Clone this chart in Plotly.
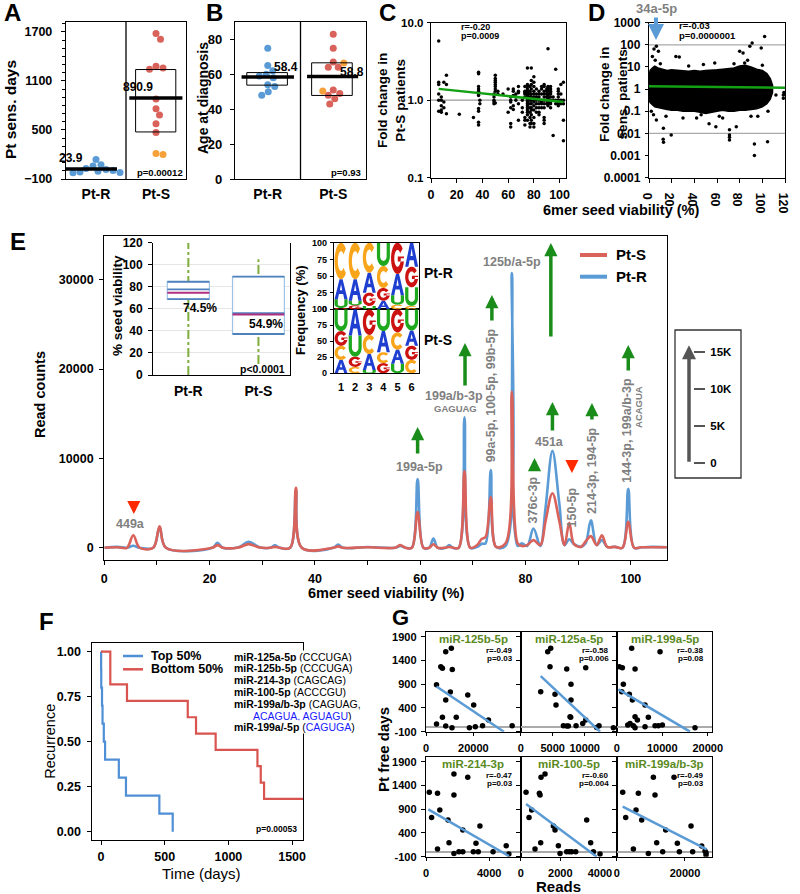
import math
import plotly.graph_objects as go

W, H = 800, 894
FF = "Liberation Sans, Arial, Helvetica, sans-serif"

def PX(x): return x / W
def PY(y): return 1 - y / H
def DX(a, b): return [a / W, b / W]
def DY(t, b): return [1 - b / H, 1 - t / H]

# ======================= DATA =======================
# Panel A: Pt sensitivity (days)
a_categories = ["Pt-R", "Pt-S"]
a_ptR = [140, 75, 60, 30, 15, 5, -5, -15, -25, -20]
a_ptS = [1680, 1610, 1280, 1260, 1245, 880, 760, 685, 575, 470]
a_ptS_orange = [212, 200]
a_means = [23.9, 890.9]
a_box_lo = [None, 476]
a_box_hi = [None, 1240]
a_yticks = [-100, 500, 1100, 1700]

# Panel B: age at diagnosis
b_ptR = [75, 65, 62, 60, 59, 58, 54, 53, 50, 48]
b_ptS = [83, 75, 67, 64, 64, 51, 49, 48, 46, 43]
b_ptS_orange = [66.5, 50.5]
b_means = [58.4, 58.8]
b_box_lo = [53.8, 47.9]
b_box_hi = [61.0, 66.6]
b_yticks = [0, 20, 40, 60, 80]

# Panel C: fold change in Pt-S vs seed viability (vertical stripes)
c_stripe_x = [6, 8, 10, 12, 22, 33, 37, 38, 49, 50, 52, 56, 60, 62, 64, 66, 68, 71, 73,
              75, 77, 78, 80, 82, 84, 86, 88, 90, 91, 93, 95, 97, 99, 101, 103]
c_stripe_y = [
    [5.8, 1.7, 1.6, 1.2, 1.0, 0.72],
    [1.1, 1.0, 0.85, 0.75, 0.7],
    [1.7, 0.95, 0.8],
    [2.1, 1.6, 0.67],
    [0.66],
    [0.6],
    [2.3, 2.2, 1.5, 1.4, 1.3, 1.2, 1.15, 0.78, 0.72, 0.52, 0.48],
    [1.0, 0.9],
    [1.2, 1.1, 1.0, 0.95, 0.9],
    [2.1, 1.9, 1.8, 1.7, 1.6, 1.5, 1.4, 1.3, 0.92],
    [1.3, 1.2],
    [1.2],
    [0.7, 1.4],
    [1.1, 1.0, 0.8, 0.5, 0.45, 0.95],
    [1.4, 1.3, 1.15, 0.85, 0.76],
    [1.2, 1.1, 1.0],
    [1.5, 1.3, 1.25, 0.9, 0.55],
    [1.0, 0.8, 0.7],
    [1.5, 1.3, 1.25, 1.2, 1.1, 0.6, 0.55, 0.48],
    [2.6, 1.6, 1.5, 1.4, 1.3, 1.25, 1.2, 1.15, 1.1, 1.05, 1.0, 0.95, 0.9, 0.85, 0.8, 0.75, 0.7, 0.65, 0.55],
    [1.5, 1.3, 1.2, 1.1, 1.0, 0.9, 0.8, 0.7, 0.6, 0.5, 0.45],
    [2.6, 1.8, 1.6, 1.4, 1.2, 1.1, 1.0, 0.9, 0.8, 0.75, 0.65, 0.55, 0.5],
    [2.0, 1.7, 1.5, 1.3, 1.2, 1.1, 1.05, 1.0, 0.95, 0.85, 0.75, 0.6, 0.5, 0.45],
    [1.4, 1.2, 1.1, 1.0, 0.9, 0.8, 0.7],
    [1.3, 1.2, 1.1, 1.0, 0.9, 0.8, 0.7, 0.65],
    [1.5, 1.4, 1.2, 1.0, 0.95, 0.9, 0.8],
    [1.6, 1.5, 1.3, 1.2, 1.1, 1.0, 0.9, 0.8, 0.6, 0.55, 0.5],
    [1.4, 1.3, 1.2, 1.1, 1.0, 0.9],
    [4.6, 1.5, 1.45, 1.35, 1.3, 1.2, 1.15, 1.1, 1.05, 1.0, 0.95, 0.9, 0.85],
    [1.5, 1.4, 1.3, 1.25, 1.2, 1.1, 1.0, 0.95, 0.9, 0.8],
    [0.35, 1.1, 1.0],
    [2.5, 1.0, 0.9],
    [1.4, 1.3, 1.2, 1.1, 1.0, 0.95, 0.9, 0.85],
    [1.6, 1.2, 1.0, 0.95, 0.9],
    [1.7, 1.0, 0.9, 0.55, 0.3],
]
c_fit_x = [6, 103]
c_fit_y = [1.40, 0.95]

# Panel D: dense cloud (envelope of the core) + outliers
d_env_x = [0, 1, 3, 5, 8, 12, 16, 20, 25, 30, 35, 40, 45, 50, 55, 60, 65, 70, 75, 80, 85, 90, 95, 100, 104, 107, 109]
d_env_hi = [4, 7, 9, 11, 9, 8, 7, 7.5, 7, 7, 6.5, 7, 6.5, 7, 7, 7.5, 8, 8.5, 9, 11, 12, 10, 8, 7, 5, 3, 1.5]
d_env_lo = [0.35, 0.25, 0.2, 0.16, 0.15, 0.13, 0.12, 0.11, 0.11, 0.1, 0.1, 0.1, 0.09, 0.08, 0.09, 0.1, 0.11,
            0.1, 0.1, 0.11, 0.11, 0.12, 0.13, 0.16, 0.22, 0.35, 0.7]
d_out_x = [4.4, 6.5, 8.3, 3, 5.5, 23.7, 26.7, 12.7, 12.5, 12.8, 19.6, 53, 59, 71, 71, 71, 71, 77, 80, 83,
           84.4, 89, 91, 99, 102, 93, 93, 104.6, 112, 118.5, 118.5, 119, 6.5, 4, 46, 30, 65, 96, 58, 87,
           2, 10, 15, 35, 42, 48, 62, 75, 90, 100, 105]
d_out_y = [65, 86, 51, 30, 20, 30, 28, 0.017, 0.0055, 0.004, 0.0085, 0.027, 0.02, 0.0145, 0.0085, 0.0067,
           0.005, 0.02, 51, 43, 15, 86, 120, 72, 240, 0.0033, 0.001, 0.0042, 0.55, 0.55, 0.39, 0.7, 0.04,
           0.07, 0.07, 0.05, 0.05, 0.06, 15, 20,
           0.1, 14, 0.06, 11, 0.05, 13, 0.06, 14, 0.06, 12, 0.1]
d_fit_x = [0, 120]
d_fit_y = [1.35, 1.15]

# Panel E: read counts vs seed viability
e_x = [0, 2.5, 4.3, 5.5, 6.7, 9.3, 10.5, 11.7, 20.5, 21.5, 22.5, 25.5, 27.4, 29.5, 31.5, 32.4, 33.3,
       35.3, 36.4, 37.5, 43.5, 44.4, 45.3, 50, 55.2, 56.2, 57.2, 58.4, 59.5, 60.6, 61.7, 62.5, 63.3,
       64.8, 65.5, 66.2, 67.3, 68.4, 69.5, 70.8, 71.7, 72.4, 73.4, 74.4, 76.2, 77.4, 78.5, 79.3, 80.3,
       81.5, 82.8, 83.8, 85.1, 86.4, 87.4, 88.3, 89.2, 90.5, 91.4, 92.4, 93.5, 94.5, 95.5, 97, 98.4,
       99.5, 100.6, 102, 104, 107]
e_ptR = [0, 100, 0, 220, 0, 0, 2300, 0, 0, 550, 0, 50, 680, 50, 0, 270, 0,
         0, 6400, 0, 0, 370, 0, 80, 0, 200, 0, 0, 7700, 0, 0, 1040, 0,
         0, 300, 0, 0, 14600, 0, 100, 450, 500, 8700, 100, 200, 30750, 200, 490, 200,
         2150, 200, 4500, 10850, 5000, 300, 960, 400, 100, 500, 3080, 300, 850, 100, 100, 0,
         6600, 0, 50, 100, 50]
e_ptS = [0, 50, 0, 1400, 0, 0, 2400, 0, 0, 300, 0, 30, 410, 30, 0, 100, 0,
         0, 6700, 0, 0, 150, 0, 50, 0, 300, 0, 0, 4000, 0, 0, 400, 0,
         0, 100, 0, 0, 8600, 0, 300, 1000, 1200, 5650, 100, 500, 17500, 500, 200, 300,
         850, 300, 3000, 6100, 3000, 300, 2800, 400, 100, 700, 1300, 300, 1400, 100, 100, 0,
         2900, 0, 50, 50, 50]
e_yticks = [0, 10000, 20000, 30000]

# E inset: % seed viability box plot
inset_groups = ["Pt-R", "Pt-S"]
inset_q1 = [68.9, 37.2]
inset_q3 = [84.6, 89.2]
inset_median = [77.7, 56.0]
inset_mean = [74.5, 54.9]
inset_wlo = [0, 10]
inset_whi = [120, 105]

# E inset: seed logos (frequency %, positions 1..6)
logo_pos = [1, 2, 3, 4, 5, 6]
logoR_A = [30, 32, 30, 13, 32, 36]
logoR_C = [55, 55, 45, 33, 7, 5]
logoR_G = [2, 6, 20, 19, 47, 31]
logoR_U = [13, 7, 5, 35, 14, 28]
logoS_A = [21, 41, 25, 33, 22, 24]
logoS_C = [22, 10, 30, 17, 27, 21]
logoS_G = [23, 16, 40, 16, 36, 22]
logoS_U = [34, 33, 5, 34, 15, 33]

# E scale bar
sb_ticks = [0, 5000, 10000, 15000]
sb_labels = ["0", "5K", "10K", "15K"]
sb_arrow_top = 15900

# Panel F: Kaplan-Meier
f_top_t = [1, 2, 8, 12, 22, 32, 140, 196, 458, 563]
f_top_s = [0.9, 0.8, 0.7, 0.6, 0.5, 0.4, 0.3, 0.2, 0.1, 0.0]
f_bot_t = [73, 204, 681, 746, 900, 1228, 1254, 1280]
f_bot_s = [0.818, 0.727, 0.636, 0.545, 0.455, 0.364, 0.273, 0.182]
f_bot_end = 1600

# Panel G: Pt free days vs reads
g_titles = ["miR-125b-5p", "miR-125a-5p", "miR-199a-5p", "miR-214-3p", "miR-100-5p", "miR-199a/b-3p"]
g_r = ["r=-0.49", "r=-0.58", "r=-0.38", "r=-0.47", "r=-0.60", "r=-0.49"]
g_p = ["p=0.03", "p=0.006", "p=0.08", "p=0.03", "p=0.004", "p=0.03"]
g_xmax = [40000, 15000, 21000, 6000, 4850, 28000]
g_xticks = [[0, 20000], [0, 5000, 10000], [0, 10000, 20000], [0, 4000], [0, 2000, 4000], [0, 20000]]
g_yticks = [-100, 400, 900, 1400, 1900]
g1_x = [4440, 8330, 10700, 6250, 6940, 11100, 10280, 8330, 17640, 20140, 6940, 4440, 8330, 10970, 12780, 18330, 20830, 23890, 26390, 36390]
g1_y = [890, 1585, 1655, 1270, 1235, 1210, 735, 567, 672, 462, 202, 62, 19, -16, 202, -16, 5, 26, 146, 26]
g2_x = [4220, 4690, 4580, 3125, 5360, 5520, 7190, 7860, 7860, 7710, 7810, 6670, 7190, 7450, 8650, 9690, 10160, 10160, 11870, 12240, 14480]
g2_y = [1585, 1655, 1270, 742, 686, 462, 1220, 897, 567, 216, 202, 26, 19, 19, 26, 75, 146, 1249, -9, 26, -16]
g3_x = [590, 1240, 1460, 1100, 2780, 3440, 2930, 2420, 3660, 4030, 4030, 4540, 3290, 4030, 6220, 6950, 6220, 8420, 9150, 10030, 9520, 17200]
g3_y = [1270, 1249, 897, 742, 686, 567, 75, 40, 26, -16, 216, 146, 1655, 1220, 462, 202, 5, 26, 26, 40, 1585, -16]
g4_x = [208, 354, 729, 875, 729, 1396, 1458, 1770, 1770, 1770, 2083, 2333, 2333, 2645, 3166, 3416, 2999, 3312, 4249, 5082, 5249]
g4_y = [1255, 728, 1234, 883, 61, 672, 195, 1641, 1199, -30, 5, 5, 462, 1571, 181, 546, 5, 5, 5, 132, -44]
g5_x = [270, 421, 556, 724, 943, 977, 1027, 1229, 1010, 1650, 1734, 1903, 1987, 2324, 2459, 2577, 2779, 3334, 3536, 3671, 4008]
g5_y = [1255, 728, 883, 61, 1234, 1199, 1571, 1641, 195, 546, 462, 132, -30, 5, 5, 5, 5, 672, 195, 5, -44]
g6_x = [1760, 2640, 4880, 5660, 6340, 7320, 9270, 10740, 11220, 11710, 13470, 14350, 16790, 17760, 18350, 21770, 22250, 24890, 26160, 26160, 25860]
g6_y = [1255, 728, 61, 883, 1234, 672, -30, 1571, 1199, 195, 5, 462, 1571, 181, 5, 546, 5, 125, -16, -65, 19]
g_fit_x = [[4440, 32900], [3125, 12400], [370, 16100], [146, 5250], [270, 3840], [1760, 26350]]
g_fit_y = [[850, -100], [1072, -100], [791, -100], [897, -86], [1009, -100], [953, 55]]

# ======================= STYLE =======================
BLUE = "#5B9BD5"
RED = "#D9625B"
ORANGE = "#F7A13B"
GREEN = "#14A014"
ARROW_GREEN = "#1A8C1A"
GRAY = "#808080"
LOGO_COL = {"A": "#1F3FD0", "C": "#F8A51B", "G": "#CC1111", "U": "#1EA81E"}

fig = go.Figure()
ann, shapes = [], []


def T(x, y, s, size=12, color="black", xref="paper", yref="paper", xa="center", ya="middle",
      angle=0, bold=True, bg=None, yshift=0, xshift=0):
    if xref == "paper":
        x = PX(x)
    if yref == "paper":
        y = PY(y)
    d = dict(x=x, y=y, xref=xref, yref=yref, text=(f"<b>{s}</b>" if bold else s), showarrow=False,
             font=dict(family=FF, size=size, color=color), xanchor=xa, yanchor=ya, textangle=angle,
             yshift=yshift, xshift=xshift, borderpad=0)
    if bg:
        d["bgcolor"] = bg
    ann.append(d)


def AX(domain, rng, anchor, size=12, **kw):
    d = dict(domain=domain, range=rng, anchor=anchor, showline=True, linecolor="black", linewidth=1.4,
             mirror=True, showgrid=False, zeroline=False, ticks="outside", ticklen=4, tickwidth=1.2,
             tickcolor="black", ticklabelstandoff=2, automargin=False,
             tickfont=dict(family=FF, size=size, color="black", weight="bold"))
    d.update(kw)
    return d


def swarm(vals, center, ux, uy, d=7.0, step=0.5):
    placed, xs = [], []
    cands = [0.0]
    for i in range(1, 80):
        cands += [i * step, -i * step]
    for v in vals:
        for c in cands:
            if all((c - p) ** 2 + (v * uy - q) ** 2 >= d * d for p, q in placed):
                placed.append((c, v * uy))
                xs.append(center + c / ux)
                break
    return xs


def line(xref, yref, x0, y0, x1, y1, color="black", width=1, dash=None, layer="above"):
    ln = dict(color=color, width=width)
    if dash:
        ln["dash"] = dash
    shapes.append(dict(type="line", xref=xref, yref=yref, x0=x0, y0=y0, x1=x1, y1=y1, line=ln, layer=layer))


def rect(xref, yref, x0, y0, x1, y1, color="black", width=1, fill=None, layer="above"):
    shapes.append(dict(type="rect", xref=xref, yref=yref, x0=x0, y0=y0, x1=x1, y1=y1,
                       line=dict(color=color, width=width), fillcolor=fill or "rgba(0,0,0,0)", layer=layer))


def arrow(x, y, xref, yref, ax, ay, ayref, color, width=3.5, size=0.7):
    ann.append(dict(x=x, y=y, xref=xref, yref=yref, ax=ax, ay=ay, axref="pixel", ayref=ayref,
                    showarrow=True, arrowhead=2, arrowsize=size, arrowwidth=width, arrowcolor=color, text=""))


layout_axes = {}

# ---------------- Panel A ----------------
layout_axes["xaxis"] = AX(DX(66, 186), [-0.5, 1.5], "y", size=14, tickvals=[0, 1], ticktext=a_categories, ticks="",
                          ticklabelstandoff=2)
layout_axes["yaxis"] = AX(DY(22, 179), [-100, 1822], "x", size=12.5, tickvals=a_yticks, ticklabelstandoff=6,
                          minor=dict(tick0=-100, dtick=100, ticks="outside", ticklen=2.5, tickcolor="black"))
xr = swarm(a_ptR, 0, 60, 0.0817)
xs = swarm(a_ptS + a_ptS_orange, 1, 60, 0.0817)
n = len(a_ptS)
for xx, yy, col in [(xr, a_ptR, BLUE), (xs[:n], a_ptS, RED), (xs[n:], a_ptS_orange, ORANGE)]:
    fig.add_trace(go.Scatter(x=xx, y=yy, mode="markers", marker=dict(size=7, color=col), xaxis="x", yaxis="y"))
rect("x", "y", 0.66, a_box_lo[1], 1.33, a_box_hi[1], width=1)
line("x", "y", -0.5, a_means[0], 0.35, a_means[0], width=3.5)
line("x", "y", 0.555, a_means[1], 1.44, a_means[1], width=3.5)
line("x", "y domain", 0.5, 0, 0.5, 1, width=1.3)
T(-0.42, a_means[0], f"{a_means[0]}", 12, xref="x", yref="y", ya="bottom", yshift=3)
T(0.695, a_means[1], f"{a_means[1]}", 12, xref="x", yref="y", ya="bottom", yshift=3)
T(184, 172, "p=0.00012", 9.5, xa="right")
T(11, 110, "Pt sens. days", 15.5, angle=-90)
T(12.5, 13, "A", 24)

# ---------------- Panel B ----------------
layout_axes["xaxis2"] = AX(DX(235, 366), [-0.5, 1.5], "y2", size=14, tickvals=[0, 1], ticktext=a_categories, ticks="",
                           ticklabelstandoff=2)
layout_axes["yaxis2"] = AX(DY(22, 179), [0, 90], "x2", size=13, tickvals=b_yticks, ticklabelstandoff=5)
xr = swarm(b_ptR, 0, 65.5, 1.746)
xs = swarm(b_ptS + b_ptS_orange, 1, 65.5, 1.746)
n = len(b_ptS)
for xx, yy, col in [(xr, b_ptR, BLUE), (xs[:n], b_ptS, RED), (xs[n:], b_ptS_orange, ORANGE)]:
    fig.add_trace(go.Scatter(x=xx, y=yy, mode="markers", marker=dict(size=7, color=col), xaxis="x2", yaxis="y2"))
rect("x2", "y2", -0.32, b_box_lo[0], 0.30, b_box_hi[0], width=1)
rect("x2", "y2", 0.67, b_box_lo[1], 1.29, b_box_hi[1], width=1)
line("x2", "y2", -0.40, b_means[0], 0.40, b_means[0], width=3.5)
line("x2", "y2", 0.60, b_means[1], 1.38, b_means[1], width=3.5)
line("x2", "y2 domain", 0.5, 0, 0.5, 1, width=1.3)
T(0.276, b_means[0], f"{b_means[0]}", 12, xref="x2", yref="y2", ya="bottom", yshift=2)
T(1.29, b_means[1], f"{b_means[1]}", 12, xref="x2", yref="y2", ya="bottom", yshift=-4)
T(362, 172, "p=0.93", 9.5, xa="right")
T(203, 98, "Age at diagnosis", 14, angle=-90)
T(214, 13, "B", 24)

# ---------------- Panel C ----------------
cx, cy = [], []
for xv, ys in zip(c_stripe_x, c_stripe_y):
    cx += [xv] * len(ys)
    cy += ys
layout_axes["xaxis3"] = AX(DX(431, 566), [0, 105], "y3", size=12.5, tickvals=[0, 20, 40, 60, 80, 100],
                           ticklabelstandoff=1)
layout_axes["yaxis3"] = AX(DY(22.7, 177.7), [-1, 1], "x3", type="log", size=11.5, tickvals=[0.1, 1, 10],
                           ticktext=["0.1", "1.0", "10.0"], ticklen=3, ticklabelstandoff=1)
line("x3 domain", "y3", 0, 1, 1, 1, color="#999999", width=1.2, layer="below")
fig.add_trace(go.Scatter(x=cx, y=cy, mode="markers", marker=dict(size=3.5, color="black"), xaxis="x3", yaxis="y3"))
fig.add_trace(go.Scatter(x=c_fit_x, y=c_fit_y, mode="lines", line=dict(color=GREEN, width=2.5), xaxis="x3", yaxis="y3"))
T(460, 27, "r=-0.20", 9, xa="left")
T(460, 36.5, "p=0.0009", 9, xa="left")
T(391, 101, "Fold change in<br>Pt-S patients", 13.5, angle=-90)
T(387.5, 13, "C", 24)

# ---------------- Panel D ----------------
layout_axes["xaxis4"] = AX(DX(649, 785), [0, 120], "y4", size=12.5, tickvals=[0, 20, 40, 60, 80, 100, 120],
                           ticklabelstandoff=1)
layout_axes["yaxis4"] = AX(DY(22.7, 177.7), [-4, 3], "x4", type="log", size=12,
                           tickvals=[1e-4, 1e-3, 1e-2, 0.1, 1, 10, 100, 1000],
                           ticktext=["0.0001", "0.001", "0.01", "0.1", "1", "10", "100", "1000"],
                           ticklen=3, ticklabelstandoff=2)
for yv in [100, 0.01]:
    line("x4 domain", "y4", 0, yv, 1, yv, color="#aaaaaa", width=1.2, layer="below")
fig.add_trace(go.Scatter(x=d_env_x + d_env_x[::-1], y=d_env_hi + d_env_lo[::-1], mode="lines", fill="toself",
                         fillcolor="black", line=dict(color="black", width=1.5), xaxis="x4", yaxis="y4"))
fig.add_trace(go.Scatter(x=d_out_x, y=d_out_y, mode="markers", marker=dict(size=3.5, color="black"), xaxis="x4", yaxis="y4"))
fig.add_trace(go.Scatter(x=d_fit_x, y=d_fit_y, mode="lines", line=dict(color=GREEN, width=2.5), xaxis="x4", yaxis="y4"))
T(678, 26, "r=-0.03", 9.5, xa="left")
T(678, 35, "p=0.0000001", 9.5, xa="left")
T(613, 95, "Fold change in<br>sens. patients", 13.5, angle=-90)
T(596.7, 13, "D", 24)
T(656.7, 8, "34a-5p", 13, color=GRAY)
arrow(PX(656), PY(40), "paper", "paper", 0, -24, "pixel", BLUE, width=4, size=0.8)
T(621.5, 210, "6mer seed viability (%)", 14.5)

# ---------------- Panel E ----------------
layout_axes["xaxis5"] = AX(DX(104.3, 666.7), [0, 106.8], "y5", size=12.5,
                           tickvals=list(range(0, 101, 10)),
                           ticktext=[str(v) if v % 20 == 0 else "" for v in range(0, 101, 10)],
                           ticklabelstandoff=3)
layout_axes["yaxis5"] = AX(DY(236, 560), [-1370, 34900], "x5", size=12.5, tickvals=e_yticks,
                           ticktext=[str(v) for v in e_yticks], ticklabelstandoff=3)
fig.add_trace(go.Scatter(x=e_x, y=e_ptR, mode="lines", line=dict(color=BLUE, width=2.6, shape="spline", smoothing=1.0),
                         xaxis="x5", yaxis="y5"))
fig.add_trace(go.Scatter(x=e_x, y=e_ptS, mode="lines", line=dict(color=RED, width=2.6, shape="spline", smoothing=1.0),
                         xaxis="x5", yaxis="y5"))
T(40, 395, "Read counts", 14.5, angle=-90)
T(386.5, 593, "6mer seed viability (%)", 14.5)
T(18, 241, "E", 24)
# legend
line("paper", "paper", PX(580), PY(255), PX(607), PY(255), color=RED, width=4)
line("paper", "paper", PX(580), PY(276.7), PX(607), PY(276.7), color=BLUE, width=4)
T(615, 255, "Pt-S", 15, xa="left")
T(615, 276.7, "Pt-R", 15, xa="left")

# peak labels
e_labels = [("449a", 5.0, 524, 0, 12.5), ("199a-5p", 59.8, 466.5, 0, 12.5), ("199a/b-3p", 66.5, 396, 0, 12.5),
            ("GAGUAG", 66.6, 408.5, 0, 9.5), ("99a-5p, 100-5p, 99b-5p", 73.5, 395, -90, 12.5),
            ("125b/a-5p", 77.5, 261.5, 0, 12.5), ("451a", 84.5, 441.7, 0, 12.5), ("376c-3p", 81.5, 500, -90, 12.5),
            ("150-5p", 88.8, 507.5, -90, 12.5), ("214-3p, 194-5p", 92.6, 470, -90, 12.5),
            ("144-3p, 199a/b-3p", 99.2, 430, -90, 12.5), ("ACAGUA", 101.4, 406.7, -90, 9.5)]
for s, xv, ypx, ang, sz in e_labels:
    T(xv, ypx, s, sz, color=GRAY, xref="x5", angle=ang)
# arrows (x data, tip px, tail px, color)
e_arrows = [(59.5, 427, 455, ARROW_GREEN), (68.5, 343, 387, ARROW_GREEN), (73.6, 295, 322, ARROW_GREEN),
            (84.8, 243, 338, ARROW_GREEN), (85.1, 402, 432, ARROW_GREEN), (81.7, 458, 470, ARROW_GREEN),
            (92.6, 403, 421, ARROW_GREEN), (99.5, 345, 372, ARROW_GREEN), (88.8, 473, 460, "#FF2A00"),
            (5.6, 514, 503, "#FF2A00")]
for xv, tip, tail, col in e_arrows:
    arrow(xv, PY(tip), "x5", "paper", 0, tail - tip, "pixel", col, width=3.5, size=0.75)

# ---------------- E inset: box plot ----------------
layout_axes["xaxis6"] = AX(DX(153.3, 290), [-0.5, 1.45], "y6", size=14, tickvals=[0, 1], ticktext=inset_groups,
                           ticks="", mirror=False, ticklabelstandoff=3)
layout_axes["yaxis6"] = AX(DY(242.7, 375), [0, 120], "x6", size=12, tickvals=[0, 20, 40, 60, 80, 100, 120],
                           showgrid=True, gridcolor="#e6e6e6", gridwidth=1, ticklabelstandoff=3)
halfw = [0.30, 0.37]
for i in range(2):
    line("x6", "y6", i, inset_wlo[i], i, inset_whi[i], color="#7FAE3E", width=2, dash="dashdot")
    rect("x6", "y6", i - halfw[i], inset_q1[i], i + halfw[i], inset_q3[i], color="#9DC3E6", width=1.2, fill="white")
    for yv in [inset_q1[i], inset_q3[i], inset_median[i]]:
        line("x6", "y6", i - halfw[i], yv, i + halfw[i], yv, color="#4F81BD", width=1.8)
    line("x6", "y6", i - halfw[i], inset_mean[i], i + halfw[i], inset_mean[i], color="#B0307F", width=2)
T(200, 308.3, "74.5%", 12)
T(266, 324, "54.9%", 12)
T(262, 368.5, "p<0.0001", 10.5)
T(117, 306, "% seed viability", 13.5, angle=-90)
fig.add_trace(go.Scatter(x=[None], y=[None], xaxis="x6", yaxis="y6"))

# ---------------- E inset: sequence logos ----------------
def arc(cx, cy, rx, ry, a0, a1, n):
    return [(cx + rx * math.cos(math.radians(a0 + (a1 - a0) * i / n)),
             cy + ry * math.sin(math.radians(a0 + (a1 - a0) * i / n))) for i in range(n + 1)]


def glyph(letter):
    if letter == "A":
        return [[(0, 0), (0.38, 1), (0.62, 1), (1, 0), (0.75, 0), (0.66, 0.27), (0.34, 0.27), (0.25, 0)],
                [(0.41, 0.45), (0.59, 0.45), (0.5, 0.76)]]
    if letter == "C":
        return [arc(0.5, 0.5, 0.5, 0.5, 42, 318, 24) + arc(0.5, 0.5, 0.25, 0.27, 318, 42, 24)]
    if letter == "G":
        return [arc(0.5, 0.5, 0.5, 0.5, 38, 360, 26) + arc(0.5, 0.5, 0.25, 0.27, 360, 38, 26),
                [(0.52, 0.40), (1.0, 0.40), (1.0, 0.56), (0.52, 0.56)]]
    return [[(0, 1)] + arc(0.5, 0.42, 0.5, 0.42, 180, 360, 18) + [(1, 1), (0.75, 1)]
            + arc(0.5, 0.42, 0.25, 0.2, 360, 180, 18) + [(0.25, 1)]]


def logo(xref, yref, freqs):
    for j, pos in enumerate(logo_pos):
        col = sorted([(freqs[L][j], L) for L in "ACGU"])
        base = 0.0
        for f, L in col:
            x0, w = pos - 0.46, 0.92
            parts = []
            for poly in glyph(L):
                pts = [f"{x0 + u * w:.4f},{base + v * f:.4f}" for u, v in poly]
                parts.append("M " + " L ".join(pts) + " Z")
            shapes.append(dict(type="path", path=" ".join(parts), xref=xref, yref=yref,
                               fillcolor=LOGO_COL[L], line=dict(width=0), layer="above"))
            base += f


layout_axes["xaxis7"] = AX(DX(334, 418.7), [0.5, 6.5], "y7", showticklabels=False, ticks="")
layout_axes["yaxis7"] = AX(DY(242.7, 309.3), [0, 100], "x7", size=9, tickvals=[0, 25, 50, 75, 100], ticklen=3,
                           ticklabelstandoff=1)
layout_axes["xaxis8"] = AX(DX(334, 418.7), [0.5, 6.5], "y8", size=11, tickvals=logo_pos, ticks="",
                           ticklabelstandoff=3)
layout_axes["yaxis8"] = AX(DY(309.3, 373.3), [0, 100], "x8", size=9, tickvals=[0, 25, 50, 75, 100], ticklen=3,
                           ticklabelstandoff=1)
fig.add_trace(go.Scatter(x=[None], y=[None], xaxis="x7", yaxis="y7"))
fig.add_trace(go.Scatter(x=[None], y=[None], xaxis="x8", yaxis="y8"))
logo("x7", "y7", {"A": logoR_A, "C": logoR_C, "G": logoR_G, "U": logoR_U})
logo("x8", "y8", {"A": logoS_A, "C": logoS_C, "G": logoS_G, "U": logoS_U})
T(423, 273, "Pt-R", 14, xa="left")
T(423, 340, "Pt-S", 14, xa="left")
T(300, 310, "Frequency (%)", 13, angle=-90)

# ---------------- E scale bar ----------------
rect("paper", "paper", PX(675), PY(330), PX(741), PY(478), color="#333333", width=1.3)
layout_axes["xaxis9"] = dict(domain=DX(686, 692), range=[0, 1], anchor="y9", visible=False, automargin=False)
layout_axes["yaxis9"] = dict(domain=DY(340, 463.3), range=[0, 16600], anchor="free", position=PX(693), side="right",
                             showline=False, showgrid=False, zeroline=False, tickvals=sb_ticks, ticktext=sb_labels,
                             ticks="outside", ticklen=11, tickwidth=2, tickcolor="#555555", ticklabelstandoff=3,
                             automargin=False, tickfont=dict(family=FF, size=11.5, color="black", weight="bold"))
fig.add_trace(go.Scatter(x=[None], y=[None], xaxis="x9", yaxis="y9"))
arrow(PX(689), sb_arrow_top, "paper", "y9", 0, sb_ticks[0], "y9", "#555555", width=3.5, size=0.8)

# ---------------- Panel F ----------------
layout_axes["xaxis10"] = AX(DX(91.7, 303.3), [-73, 1588], "y10", size=12.5, tickvals=[0, 500, 1000, 1500],
                            ticklabelstandoff=1)
layout_axes["yaxis10"] = AX(DY(642.7, 840), [-0.046, 1.05], "x10", size=12.5, tickvals=[0, 0.25, 0.5, 0.75, 1.0],
                            ticktext=["0.00", "0.25", "0.50", "0.75", "1.00"], ticklabelstandoff=3)
fig.add_trace(go.Scatter(x=[0] + f_top_t, y=[1.0] + f_top_s, mode="lines", line=dict(color="#4F8FD6", width=2.2, shape="hv"),
                         xaxis="x10", yaxis="y10"))
fig.add_trace(go.Scatter(x=[0] + f_bot_t + [f_bot_end], y=[1.0] + f_bot_s + [f_bot_s[-1]], mode="lines",
                         line=dict(color="#D9534F", width=2.2, shape="hv"), xaxis="x10", yaxis="y10"))
line("paper", "paper", PX(123), PY(656), PX(143), PY(656), color="#4F8FD6", width=2.5)
line("paper", "paper", PX(123), PY(669.3), PX(143), PY(669.3), color="#D9534F", width=2.5)
T(150, 656, "Top 50%", 12.5, xa="left")
T(150, 669.3, "Bottom 50%", 12.5, xa="left")
mir_lines = ["<b>miR-125a-5p</b> (CCCUGA)", "<b>miR-125b-5p</b> (CCCUGA)", "<b>miR-214-3p</b> (CAGCAG)",
             "<b>miR-100-5p</b> (ACCCGU)", "<b>miR-199a/b-3p</b> (CAGUAG,"]
for k, s in enumerate(mir_lines):
    T(233.3, 656.7 + 11.7 * k, s, 10.5, xa="left", bold=False, bg="white")
T(353, 715.5, "<span style='color:#1a1aff'>ACAGUA, AGUAGU</span>)", 10.5, xa="right", bold=False, bg="white")
T(233.3, 727.3, "<b>miR-199a/-5p</b> (<span style='color:#1a1aff'>CAGUGA</span>)", 10.5, xa="left", bold=False, bg="white")
T(298, 829, "p=0.00053", 8.5, xa="right")
T(201.7, 873, "Time (days)", 15, bold=False)
T(50, 741.7, "Recurrence", 14.5, angle=-90, bold=False)
T(46.7, 621, "F", 24)

# ---------------- Panel G ----------------
g_cols = [(426, 520.7), (520.7, 616.7), (616.7, 712.3)]
g_rows = [(632.3, 731.7), (757.3, 856.7)]
g_xs = [g1_x, g2_x, g3_x, g4_x, g5_x, g6_x]
g_ys = [g1_y, g2_y, g3_y, g4_y, g5_y, g6_y]
for k in range(6):
    r, c = divmod(k, 3)
    ai = 11 + k
    xr_, yr_ = f"x{ai}", f"y{ai}"
    layout_axes[f"xaxis{ai}"] = AX(DX(*g_cols[c]), [0, g_xmax[k]], yr_, size=11, tickvals=g_xticks[k],
                                   ticktext=[str(v) for v in g_xticks[k]], ticklen=3, ticklabelstandoff=3)
    layout_axes[f"yaxis{ai}"] = AX(DY(*g_rows[r]), [-100, 1993], xr_, size=11, tickvals=g_yticks,
                                   ticktext=[str(v) for v in g_yticks],
                                   showticklabels=(c == 0), ticklen=4, ticklabelstandoff=2,
                                   zeroline=True, zerolinecolor="#aaaaaa", zerolinewidth=1.5)
    fig.add_trace(go.Scatter(x=g_xs[k], y=g_ys[k], mode="markers", marker=dict(size=5.5, color="black"),
                             xaxis=xr_, yaxis=yr_))
    fig.add_trace(go.Scatter(x=g_fit_x[k], y=g_fit_y[k], mode="lines", line=dict(color=BLUE, width=2.5),
                             xaxis=xr_, yaxis=yr_))
    x0, x1 = g_cols[c]
    top = g_rows[r][0]
    T((x0 + x1) / 2, top + 7, g_titles[k], 11.5, color="#5A8A1E")
    T(x1 - 7, top + 18, g_r[k], 8, xa="right")
    T(x1 - 7, top + 26, g_p[k], 8, xa="right")
T(383, 750, "Pt free days", 15, angle=-90)
T(558, 886, "Reads", 15)
T(400, 617, "G", 22)

fig.update_layout(width=W, height=H, margin=dict(l=0, r=0, t=0, b=0, pad=0), paper_bgcolor="white",
                  plot_bgcolor="rgba(0,0,0,0)", showlegend=False, font=dict(family=FF, color="black"),
                  annotations=ann, shapes=shapes, **layout_axes)
fig.write_html("out.html", config={"displayModeBar": False},
               post_script="document.body.style.margin='0';document.body.style.padding='0';")
